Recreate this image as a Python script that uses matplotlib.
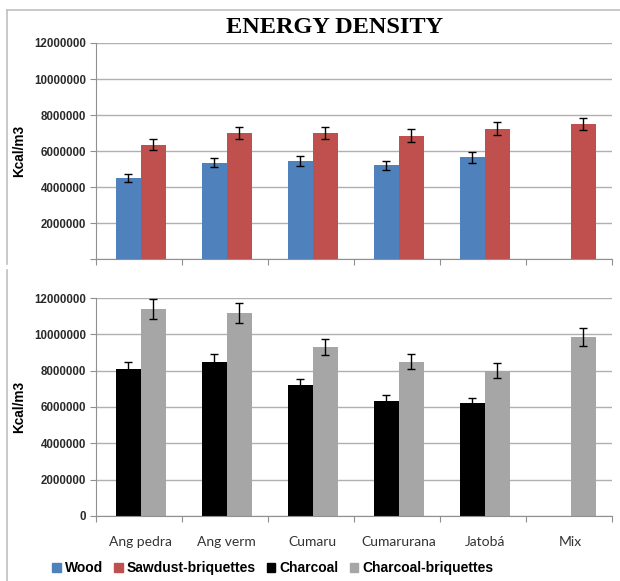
import numpy as np
import matplotlib.pyplot as plt
from matplotlib.lines import Line2D
from matplotlib.patches import Patch

species = ['Ang pedra', 'Ang verm', 'Cumaru', 'Cumarurana', 'Jatobá', 'Mix']

wood = [4500000, 5350000, 5450000, 5200000, 5650000, np.nan]
wood_err = [200000, 250000, 300000, 250000, 300000, np.nan]
sawdust = [6350000, 7000000, 7000000, 6850000, 7250000, 7500000]
sawdust_err = [300000, 350000, 350000, 350000, 350000, 350000]

charcoal = [8100000, 8500000, 7200000, 6350000, 6200000, np.nan]
charcoal_err = [400000, 400000, 350000, 300000, 300000, np.nan]
char_briq = [11400000, 11150000, 9300000, 8500000, 8000000, 9850000]
char_briq_err = [550000, 550000, 450000, 400000, 400000, 500000]

yticks = [0, 2000000, 4000000, 6000000, 8000000, 10000000, 12000000]

c_wood = '#4f81bd'
c_saw = '#c0504d'
c_char = '#000000'
c_briq = '#a6a6a6'
grid_c = '#b0b0b0'

plt.rcParams['font.family'] = ['Liberation Sans', 'DejaVu Sans']

fig = plt.figure(figsize=(6.2, 5.81), dpi=100)
ax1 = fig.add_axes([0.155, 0.554, 0.832, 0.372])
ax2 = fig.add_axes([0.155, 0.112, 0.832, 0.375])

x = np.arange(len(species))
w = 0.29


def style(ax, show_zero):
    ax.set_xlim(-0.5, len(species) - 0.5)
    ax.set_ylim(0, 12000000)
    ax.set_yticks(yticks)
    labels = [str(t) for t in yticks]
    if not show_zero:
        labels[0] = ''
    ax.set_yticklabels(labels, fontsize=8.3, fontweight='bold', color='#2a2a2a')
    ax.yaxis.grid(True, color=grid_c, linewidth=1.0)
    ax.set_axisbelow(True)
    for s in ['top', 'right']:
        ax.spines[s].set_visible(False)
    for s in ['left', 'bottom']:
        ax.spines[s].set_color('#909090')
    ax.tick_params(axis='y', length=4, color='#909090', pad=3)
    ax.set_xticks(np.arange(len(species) + 1) - 0.5, minor=False)
    ax.tick_params(axis='x', length=4, color='#909090', labelbottom=False)
    ax.set_ylabel('Kcal/m3', fontsize=9.8, fontweight='bold', labelpad=6)


ek = dict(ecolor='black', elinewidth=1, capsize=3, capthick=1)

ax1.bar(x - w / 2 + 0.02, wood, w, yerr=wood_err, color=c_wood, error_kw=ek)
ax1.bar(x + w / 2 + 0.02, sawdust, w, yerr=sawdust_err, color=c_saw, error_kw=ek)
style(ax1, False)
fig.text(0.539, 0.952, 'ENERGY DENSITY', fontsize=17.5, fontweight='bold',
         family='Liberation Serif', ha='center', va='center')

ax2.bar(x - w / 2 + 0.02, charcoal, w, yerr=charcoal_err, color=c_char, error_kw=ek)
ax2.bar(x + w / 2 + 0.02, char_briq, w, yerr=char_briq_err, color=c_briq, error_kw=ek)
style(ax2, True)
for i, name in enumerate(species):
    ax2.text(i + 0.02, -0.09, name, transform=ax2.get_xaxis_transform(),
             ha='center', va='top', fontsize=10, color='#333333',
             family='Lato')

# chart frame lines
fig.add_artist(Line2D([0.012, 0.012], [0.545, 0.983], color='#c0c0c0', lw=1.2))
fig.add_artist(Line2D([0.012, 1.0], [0.983, 0.983], color='#c0c0c0', lw=1.2))
fig.add_artist(Line2D([0.012, 0.012], [0.0, 0.535], color='#c0c0c0', lw=1.2))

handles = [Patch(color=c_wood), Patch(color=c_saw),
           Patch(color=c_char), Patch(color=c_briq)]
names = ['Wood', 'Sawdust-briquettes', 'Charcoal', 'Charcoal-briquettes']
fig.legend(handles, names, loc='center', bbox_to_anchor=(0.44, 0.022), ncol=4,
           frameon=False, handlelength=0.6, handleheight=0.6,
           handletextpad=0.3, columnspacing=0.8,
           prop={'size': 10, 'weight': 'bold'})

fig.savefig('out.png', dpi=100)
